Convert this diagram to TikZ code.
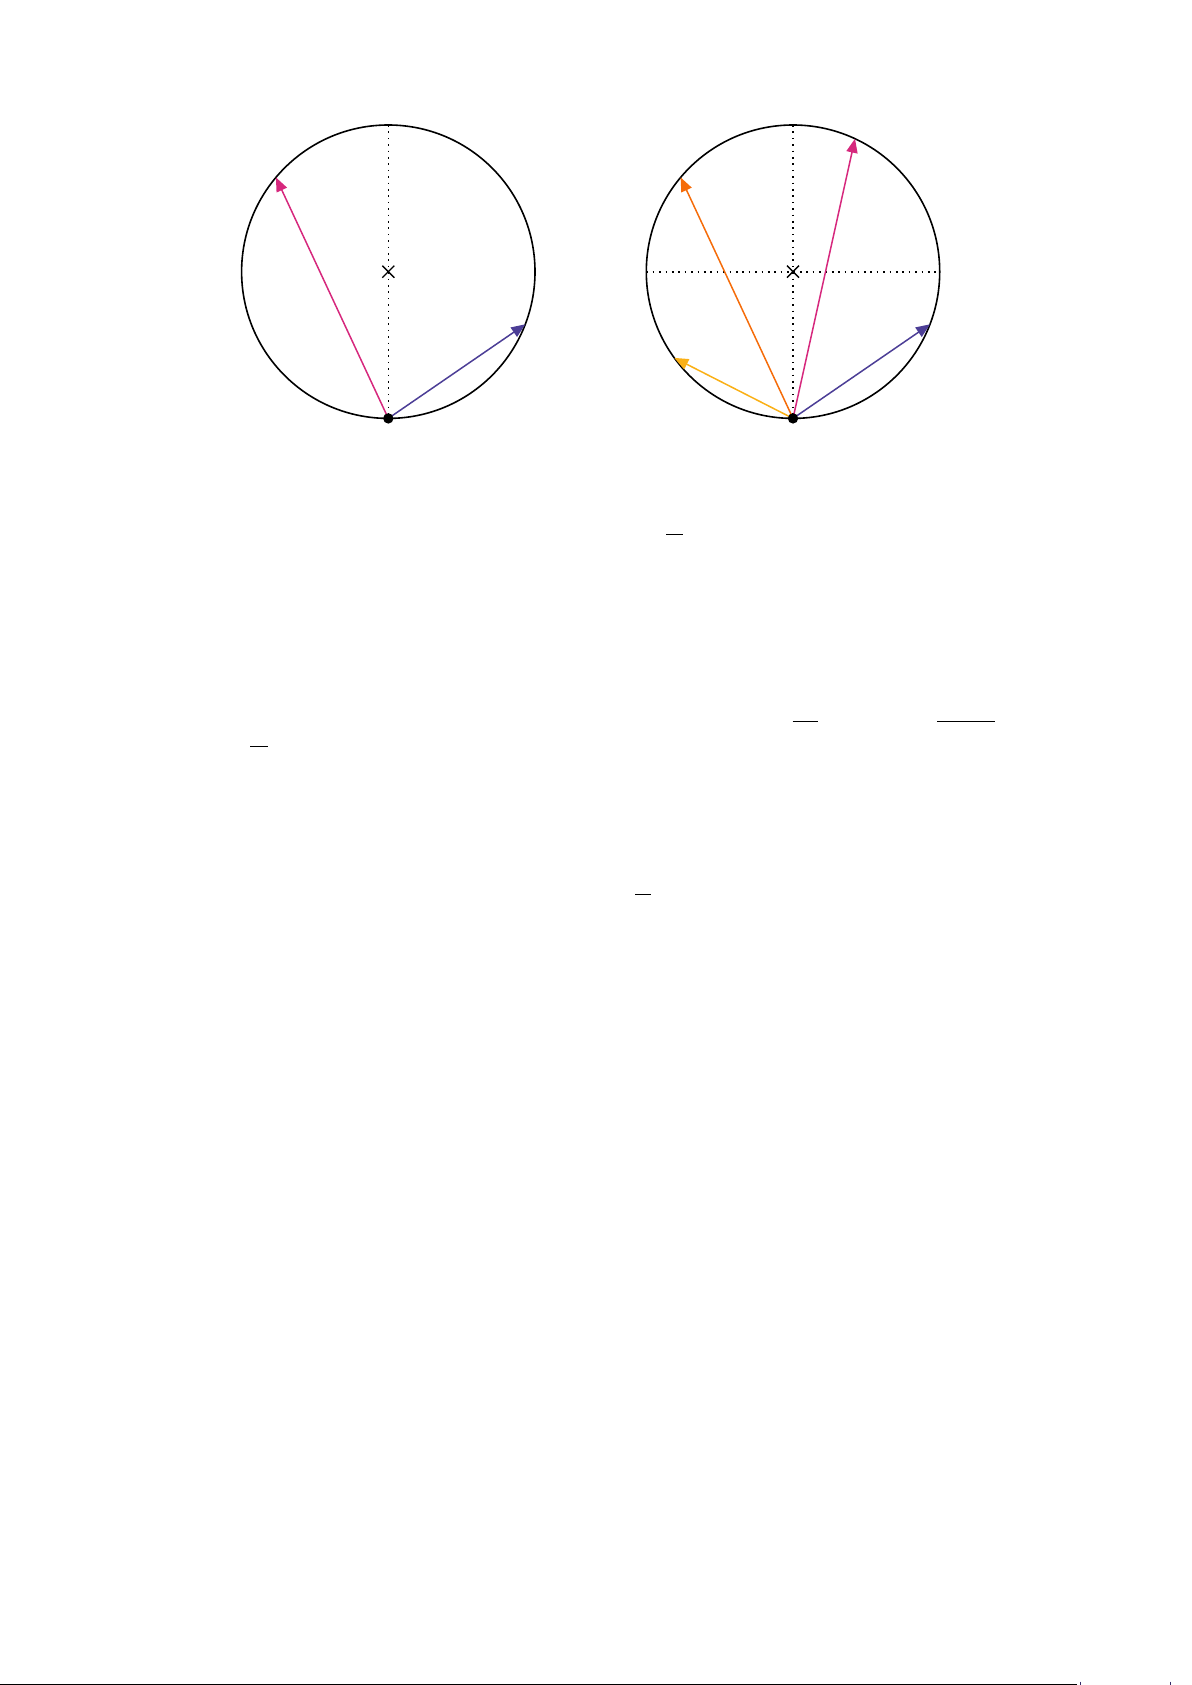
\documentclass[tikz,border=0pt]{standalone}
\usetikzlibrary{arrows.meta}
\definecolor{cmag}{RGB}{214,40,125}
\definecolor{cblue}{RGB}{76,62,150}
\definecolor{corange}{RGB}{245,108,10}
\definecolor{cyellow}{RGB}{250,176,22}
\tikzset{
  rim/.style={line width=0.8pt},
  guide/.style={line width=0.8pt, dash pattern=on 0.8pt off 2.4pt},
  vec/.style={line width=0.75pt, -{Triangle[length=7pt,width=5.6pt]}},
  crossmark/.style={line width=0.7pt},
  fracbar/.style={line width=0.45pt},
  baseline rule/.style={line width=0.5pt},
  foot/.style={line width=0.4pt, draw=cblue!70!black}
}
\begin{document}
\begin{tikzpicture}[x=0.5pt,y=-0.5pt]
\useasboundingbox (0,0) rectangle (1192,1685);
% ---------- left circle ----------
\coordinate (L) at (388.3,271.7);
\coordinate (Lt) at (388.3,125.0);
\coordinate (Lb) at (388.3,418.4);
\coordinate (Lmag) at (275.9,177.4);
\coordinate (Lblu) at (525.3,324.3);
\draw[rim] (L) circle[radius=73.35pt];
\draw[guide] (Lt) -- (Lb);
\draw[crossmark] ([shift={(-6,-6)}]L) -- ([shift={(6,6)}]L)
                 ([shift={(-6,6)}]L) -- ([shift={(6,-6)}]L);
\draw[vec, cmag] (Lb) -- (Lmag);
\draw[vec, cblue] (Lb) -- (Lblu);
\fill (Lb) circle[radius=2.6pt];
% ---------- right circle ----------
\coordinate (R) at (793.0,271.7);
\coordinate (Rt) at (793.0,125.0);
\coordinate (Rb) at (793.0,418.4);
\coordinate (Rl) at (646.3,271.7);
\coordinate (Rr) at (939.7,271.7);
\coordinate (Rmag) at (855.0,138.7);
\coordinate (Rora) at (680.6,177.4);
\coordinate (Ryel) at (674.3,357.9);
\coordinate (Rblu) at (930.0,324.3);
\draw[rim] (R) circle[radius=73.35pt];
\draw[guide] (Rt) -- (Rb);
\draw[guide] (Rl) -- (Rr);
\draw[crossmark] ([shift={(-6,-6)}]R) -- ([shift={(6,6)}]R)
                 ([shift={(-6,6)}]R) -- ([shift={(6,-6)}]R);
\draw[vec, cmag] (Rb) -- (Rmag);
\draw[vec, corange] (Rb) -- (Rora);
\draw[vec, cyellow] (Rb) -- (Ryel);
\draw[vec, cblue] (Rb) -- (Rblu);
\fill (Rb) circle[radius=2.6pt];
% ---------- fraction rules ----------
\draw[fracbar] (666.0,534.3) -- (682.7,534.3);
\draw[fracbar] (792.7,721.3) -- (817.7,721.3);
\draw[fracbar] (937.0,721.3) -- (995.0,721.3);
\draw[fracbar] (250.3,746.7) -- (267.5,746.7);
\draw[fracbar] (635.0,894.9) -- (651.0,894.9);
% ---------- bottom rule and marks ----------
\draw[baseline rule] (0,1684) -- (1076.7,1684);
\draw[foot] (1080.7,1681.5) -- (1080.7,1685);
\draw[foot] (1170.0,1681.5) -- (1170.0,1685);
\end{tikzpicture}
\end{document}
